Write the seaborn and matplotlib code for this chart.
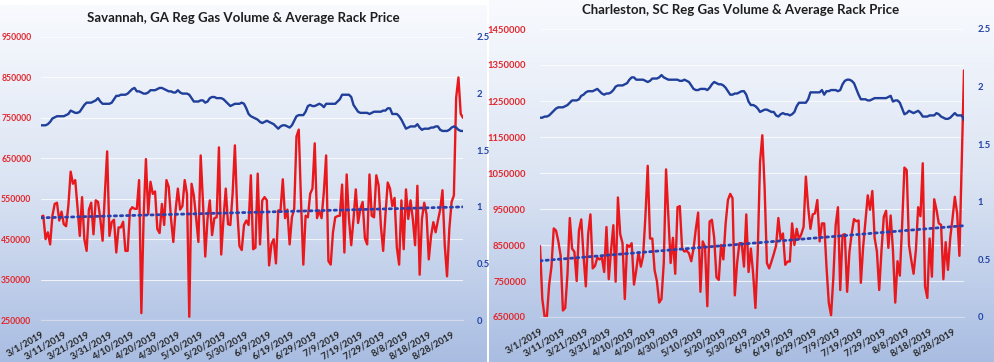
import numpy as np
import matplotlib
matplotlib.use('Agg')
import matplotlib.pyplot as plt
from matplotlib.colors import LinearSegmentedColormap
import seaborn as sns

sns.set_style('white')
plt.rcParams['font.family'] = ['Lato', 'DejaVu Sans']

# one point per day, 3/1/2019 .. 9/2/2019
days = np.arange(186)
date_labels = ['3/1/2019', '3/11/2019', '3/21/2019', '3/31/2019', '4/10/2019',
               '4/20/2019', '4/30/2019', '5/10/2019', '5/20/2019', '5/30/2019',
               '6/9/2019', '6/19/2019', '6/29/2019', '7/9/2019', '7/19/2019',
               '7/29/2019', '8/8/2019', '8/18/2019', '8/28/2019']

# Savannah volume (thousands of gallons)
sav_volume_k = [505, 508, 450, 467, 437, 508, 537, 540, 496, 518,
                487, 482, 533, 617, 587, 596, 529, 458, 554, 450,
                421, 523, 540, 462, 546, 542, 500, 446, 562, 667,
                458, 492, 498, 417, 479, 479, 493, 421, 421, 521,
                529, 525, 525, 596, 267, 508, 648, 512, 592, 562,
                568, 475, 465, 537, 485, 596, 579, 500, 443, 521,
                575, 523, 532, 596, 562, 258, 587, 558, 502, 443,
                657, 542, 407, 500, 546, 460, 502, 504, 677, 412,
                500, 575, 487, 485, 562, 682, 525, 433, 423, 485,
                496, 485, 608, 425, 429, 612, 437, 546, 554, 546,
                385, 437, 450, 390, 521, 521, 598, 502, 523, 437,
                504, 525, 704, 721, 542, 387, 508, 504, 562, 575,
                687, 502, 521, 502, 567, 657, 396, 387, 467, 504,
                507, 508, 585, 417, 610, 500, 435, 500, 573, 490,
                525, 542, 452, 437, 610, 508, 504, 608, 583, 483,
                421, 510, 590, 575, 532, 552, 429, 387, 546, 425,
                573, 500, 546, 500, 435, 582, 362, 500, 540, 512,
                400, 458, 492, 467, 496, 523, 571, 435, 358, 475,
                542, 558, 800, 850, 760, 750]

# Savannah average rack price ($/gal)
sav_price = [1.72, 1.72, 1.72, 1.73, 1.75, 1.78, 1.79, 1.80, 1.80, 1.80,
             1.80, 1.81, 1.82, 1.85, 1.84, 1.83, 1.83, 1.84, 1.87, 1.90,
             1.92, 1.92, 1.92, 1.93, 1.94, 1.96, 1.93, 1.91, 1.91, 1.91,
             1.91, 1.92, 1.95, 1.98, 1.98, 1.99, 1.99, 1.99, 2.00, 2.02,
             2.04, 2.05, 2.02, 2.02, 2.01, 2.00, 2.00, 2.01, 2.03, 2.03,
             2.03, 2.04, 2.05, 2.05, 2.04, 2.03, 2.02, 2.02, 2.01, 2.01,
             2.03, 2.01, 2.00, 2.00, 2.00, 1.99, 1.96, 1.93, 1.93, 1.93,
             1.94, 1.94, 1.92, 1.93, 1.96, 1.97, 1.97, 1.96, 1.96, 1.96,
             1.95, 1.93, 1.91, 1.89, 1.90, 1.91, 1.91, 1.91, 1.92, 1.91,
             1.87, 1.82, 1.80, 1.79, 1.78, 1.77, 1.75, 1.74, 1.75, 1.76,
             1.75, 1.74, 1.73, 1.71, 1.69, 1.71, 1.72, 1.72, 1.71, 1.70,
             1.72, 1.76, 1.80, 1.81, 1.81, 1.81, 1.84, 1.89, 1.90, 1.89,
             1.89, 1.90, 1.91, 1.90, 1.88, 1.91, 1.91, 1.91, 1.91, 1.91,
             1.93, 1.95, 1.99, 1.99, 1.99, 1.99, 1.97, 1.90, 1.87, 1.84,
             1.83, 1.83, 1.83, 1.83, 1.82, 1.83, 1.84, 1.84, 1.84, 1.84,
             1.85, 1.85, 1.87, 1.87, 1.82, 1.82, 1.82, 1.80, 1.77, 1.73,
             1.69, 1.70, 1.71, 1.71, 1.71, 1.73, 1.70, 1.68, 1.69, 1.69,
             1.69, 1.70, 1.70, 1.71, 1.71, 1.68, 1.67, 1.67, 1.67, 1.68,
             1.70, 1.71, 1.70, 1.68, 1.67, 1.67]

# Charleston volume (thousands of gallons)
chs_volume_k = [847, 700, 651, 651, 740, 790, 896, 890, 860, 820,
                668, 675, 770, 925, 840, 831, 750, 890, 921, 820,
                735, 880, 935, 785, 792, 815, 810, 815, 775, 900,
                755, 835, 905, 748, 982, 880, 855, 700, 850, 845,
                855, 740, 780, 830, 790, 820, 930, 1070, 868, 868,
                780, 750, 690, 700, 800, 1060, 930, 800, 870, 770,
                955, 958, 840, 832, 834, 827, 805, 840, 895, 940,
                720, 860, 845, 680, 915, 920, 870, 760, 753, 850,
                810, 910, 975, 992, 980, 710, 800, 855, 855, 790,
                935, 775, 840, 770, 675, 830, 1080, 1155, 1010, 800,
                785, 804, 825, 848, 925, 865, 882, 795, 804, 804,
                910, 850, 895, 866, 880, 900, 1040, 955, 895, 935,
                938, 975, 860, 910, 910, 790, 690, 655, 760, 905,
                955, 725, 878, 880, 720, 830, 882, 922, 916, 918,
                745, 845, 915, 988, 948, 1000, 870, 832, 725, 835,
                928, 945, 842, 932, 835, 690, 805, 765, 905, 1065,
                1058, 850, 808, 770, 835, 955, 930, 1077, 735, 703,
                868, 762, 977, 948, 910, 906, 755, 858, 781, 870,
                924, 984, 938, 820, 1077, 1335]

# Charleston average rack price ($/gal)
chs_price = [1.73, 1.73, 1.74, 1.74, 1.75, 1.77, 1.79, 1.81, 1.82, 1.82,
             1.82, 1.83, 1.84, 1.86, 1.88, 1.88, 1.88, 1.89, 1.92, 1.93,
             1.95, 1.96, 1.96, 1.96, 1.97, 1.98, 1.96, 1.94, 1.93, 1.94,
             1.94, 1.95, 1.97, 2.00, 2.01, 2.01, 2.01, 2.02, 2.03, 2.06,
             2.08, 2.08, 2.06, 2.06, 2.06, 2.06, 2.05, 2.04, 2.05, 2.07,
             2.07, 2.07, 2.08, 2.10, 2.08, 2.07, 2.06, 2.06, 2.06, 2.06,
             2.06, 2.05, 2.05, 2.06, 2.05, 2.04, 2.01, 1.98, 1.97, 1.97,
             1.98, 1.98, 1.98, 1.97, 1.99, 2.02, 2.04, 2.03, 2.02, 2.02,
             2.01, 1.99, 1.96, 1.93, 1.93, 1.94, 1.94, 1.95, 1.96, 1.96,
             1.93, 1.87, 1.84, 1.84, 1.83, 1.81, 1.78, 1.79, 1.80, 1.80,
             1.79, 1.78, 1.78, 1.75, 1.74, 1.76, 1.77, 1.76, 1.76, 1.75,
             1.76, 1.78, 1.83, 1.86, 1.86, 1.86, 1.86, 1.89, 1.95, 1.95,
             1.95, 1.95, 1.95, 1.97, 1.93, 1.96, 1.96, 1.97, 1.97, 1.97,
             1.96, 1.97, 2.02, 2.05, 2.06, 2.06, 2.05, 2.03, 1.98, 1.93,
             1.89, 1.89, 1.89, 1.88, 1.88, 1.89, 1.90, 1.90, 1.90, 1.90,
             1.90, 1.90, 1.91, 1.92, 1.87, 1.88, 1.88, 1.86, 1.81, 1.76,
             1.77, 1.79, 1.78, 1.77, 1.78, 1.79, 1.77, 1.74, 1.74, 1.74,
             1.75, 1.75, 1.75, 1.77, 1.76, 1.74, 1.73, 1.72, 1.72, 1.73,
             1.75, 1.77, 1.75, 1.75, 1.75, 1.71]

sav_vol_ticks = [250000, 350000, 450000, 550000, 650000, 750000, 850000, 950000]
chs_vol_ticks = [650000, 750000, 850000, 950000, 1050000, 1150000, 1250000,
                 1350000, 1450000]
price_ticks = [0, 0.5, 1, 1.5, 2, 2.5]
price_tick_labels = ['0', '0.5', '1', '1.5', '2', '2.5']

RED = '#e8181c'
RED_TXT = '#e3262b'
BLUE = '#1f3f9a'
BLUE_TXT = '#2444a6'
DOT = '#2b3fae'
W, H = 994, 362

fig = plt.figure(figsize=(W / 100, H / 100), dpi=100)

# gradient chart-area backgrounds
bg_cmap = LinearSegmentedColormap.from_list('bg', ['#f8fafe', '#dbe4f3', '#a9bde2'])
grad = np.linspace(0, 1, 256).reshape(-1, 1)
for rect in ([0, 0, 487 / W, 357 / H], [489 / W, 0, 505 / W, 1]):
    bg = fig.add_axes(rect, zorder=-10)
    bg.imshow(grad, aspect='auto', cmap=bg_cmap, extent=[0, 1, 0, 1])
    bg.axis('off')


def draw_panel(px, title, title_px, vol_k, price, vol_ticks, lsize, lpad):
    x0, y0, x1, y1 = px
    ax = fig.add_axes([x0 / W, 1 - y1 / H, (x1 - x0) / W, (y1 - y0) / H])
    ax.patch.set_visible(False)
    vol = np.array(vol_k) * 1000

    ax.yaxis.grid(True, color='white', lw=0.8, alpha=0.75)
    ax.set_axisbelow(True)
    sns.lineplot(x=days, y=vol, ax=ax, color=RED, lw=1.7)
    sns.regplot(x=days, y=vol, ax=ax, scatter=False, ci=None, truncate=True,
                line_kws=dict(color=DOT, lw=2.0, ls=(0, (0.8, 1.4)),
                              dash_capstyle='round'))
    ax.set_xlim(0, 185)
    ax.set_ylim(vol_ticks[0], vol_ticks[-1])
    ax.set_yticks(vol_ticks)
    ax.set_yticklabels([str(t) for t in vol_ticks])
    ax.set_xticks(days[::10])
    ax.set_xticklabels(date_labels, rotation=30, ha='right',
                       rotation_mode='anchor')
    ax.set_xlabel('')
    ax.set_ylabel('')
    ax.tick_params(axis='y', colors=RED_TXT, labelsize=lsize, length=0, pad=lpad)
    ax.tick_params(axis='x', colors='#d3dbea', labelcolor='#262626',
                   labelsize=6.8, length=3, width=0.6, pad=4)
    for lab in ax.get_xticklabels() + ax.get_yticklabels():
        lab.set_fontweight('bold')
    for side in ('top', 'left', 'right'):
        ax.spines[side].set_visible(False)
    ax.spines['bottom'].set_color('#d3dbea')
    ax.spines['bottom'].set_linewidth(0.8)

    ax2 = ax.twinx()
    sns.lineplot(x=days, y=price, ax=ax2, color=BLUE, lw=1.7)
    ax2.set_ylim(0, 2.5)
    ax2.set_yticks(price_ticks)
    ax2.set_yticklabels(price_tick_labels)
    ax2.set_ylabel('')
    ax2.tick_params(axis='y', colors=BLUE_TXT, labelsize=6.8, length=0, pad=10)
    for lab in ax2.get_yticklabels():
        lab.set_fontweight('bold')
    for s in ax2.spines.values():
        s.set_visible(False)

    fig.text(title_px[0] / W, 1 - title_px[1] / H, title, ha='center',
             va='center', fontsize=9.5, fontweight='bold', color='#1e1e1e')


draw_panel((41, 37, 463, 320), 'Savannah, GA Reg Gas Volume & Average Rack Price',
           (243, 18), sav_volume_k, sav_price, sav_vol_ticks, 6.2, 7)
draw_panel((540, 29, 964, 317), 'Charleston, SC Reg Gas Volume & Average Rack Price',
           (741, 10), chs_volume_k, chs_price, chs_vol_ticks, 6.8, 10)

plt.savefig('out.png', dpi=100)
